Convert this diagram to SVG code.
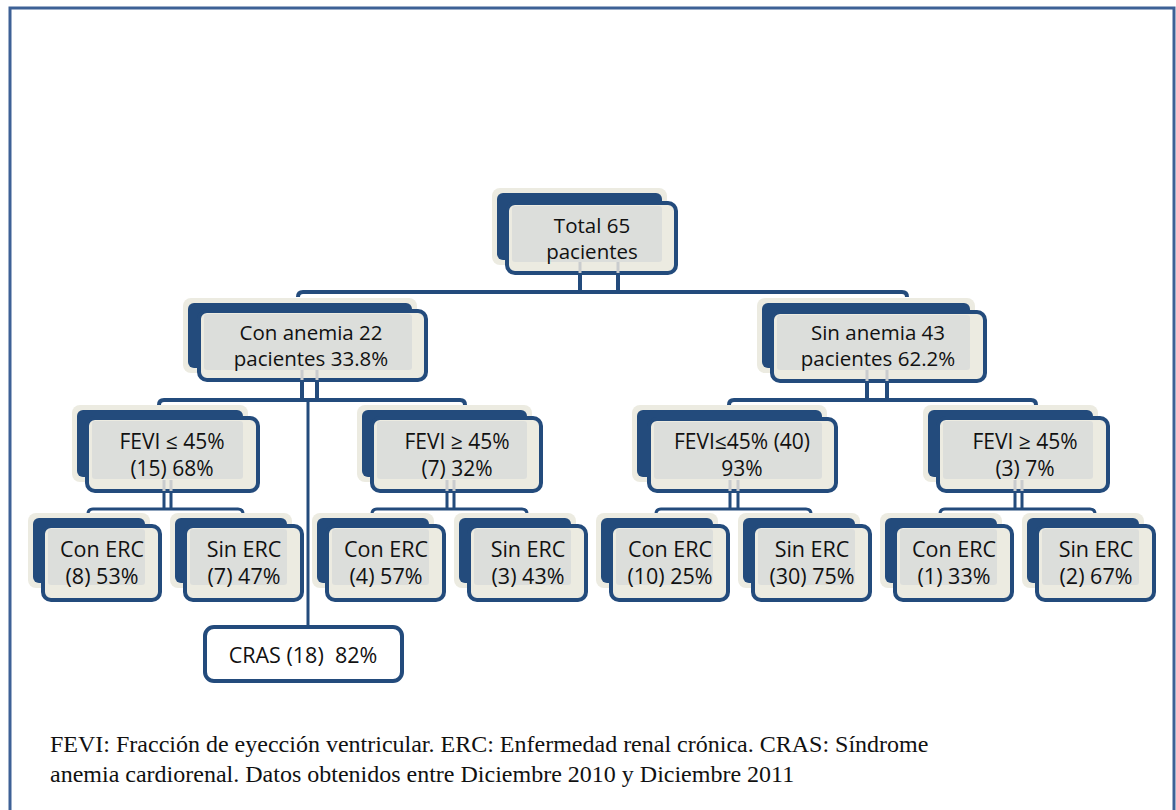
<svg xmlns="http://www.w3.org/2000/svg" width="1176" height="810" viewBox="0 0 1176 810">
<defs>
<style>
.glow{fill:#ecebe1}
.back{fill:#234b7c}
.front{fill:#ecebe1;stroke:#234b7c;stroke-width:4}
.tarea{fill:#dcdedb}
.t{font-family:"Open Sans","Liberation Sans",sans-serif;font-size:20.5px;fill:#111;text-anchor:middle}
.l2{font-size:20.5px}
.l3{font-size:21px}
.l4{font-size:21.5px}
.c{fill:none;stroke:#234b7c;stroke-width:4}
.c3{fill:none;stroke:#234b7c;stroke-width:3}
.stub{fill:none;stroke:#c9ccce;stroke-width:3}
.cap{font-family:"Liberation Serif",serif;font-size:24px;fill:#111}
</style>
</defs>
<rect width="1176" height="810" fill="#fff"/>
<rect x="10" y="8" width="1164" height="810" fill="none" stroke="#3d6196" stroke-width="3"/>

<g id="connectors">
<path class="c" d="M580,275V292M618,275V292M298,297Q298,292 303,292H902Q907,292 907,297"/>
<path class="c" d="M302,382V400M317,382V400M159,405Q159,400 164,400H460Q465,400 465,405"/>
<path class="c3" d="M308,400V625"/>
<path class="c" d="M867,383V400M887,383V400M729,405Q729,400 734,400H1031Q1036,400 1036,405"/>
<path class="c3" d="M164,493V509M171,493V509M88,514Q88,509 93,509H238Q243,509 243,514"/>
<path class="c3" d="M447,493V509M454,493V509M372,514Q372,509 377,509H522Q527,509 527,514"/>
<path class="c3" d="M730,493V509M738,493V509M656,514Q656,509 661,509H806Q811,509 811,514"/>
<path class="c3" d="M1015,493V509M1022,493V509M940,514Q940,509 945,509H1090Q1095,509 1095,514"/>
</g>

<g id="n-total">
<rect class="glow" x="492" y="188" width="175" height="77" rx="8"/>
<rect class="back" x="497" y="193" width="165" height="67" rx="6"/>
<rect class="front" x="507" y="203" width="169" height="70" rx="8"/>
<rect class="tarea" x="512" y="206" width="150" height="56" rx="3"/>
<path class="stub" d="M580,262V273M618,262V273"/>
<text class="t" x="592" y="233">Total 65</text>
<text class="t" x="592" y="259">pacientes</text>
</g>

<g id="n-con-anemia">
<rect class="glow" x="183" y="298" width="234" height="75" rx="8"/>
<rect class="back" x="188" y="303" width="224" height="65" rx="6"/>
<rect class="front" x="199" y="311" width="227" height="69" rx="8"/>
<rect class="tarea" x="204" y="314" width="208" height="56" rx="3"/>
<path class="stub" d="M302,370V380M317,370V380"/>
<text class="t l2" x="311" y="340">Con anemia 22</text>
<text class="t l2" x="311" y="366">pacientes 33.8%</text>
</g>

<g id="n-sin-anemia">
<rect class="glow" x="757" y="298" width="218" height="75" rx="8"/>
<rect class="back" x="762" y="303" width="208" height="65" rx="6"/>
<rect class="front" x="772" y="312" width="213" height="69" rx="8"/>
<rect class="tarea" x="777" y="315" width="193" height="55" rx="3"/>
<path class="stub" d="M867,370V381M887,370V381"/>
<text class="t l2" x="878" y="340">Sin anemia 43</text>
<text class="t l2" x="878" y="366">pacientes 62.2%</text>
</g>

<g id="n-fevi-15">
<rect class="glow" x="72" y="405" width="176" height="77" rx="8"/>
<rect class="back" x="77" y="410" width="166" height="67" rx="6"/>
<rect class="front" x="87" y="418" width="171" height="73" rx="8"/>
<rect class="tarea" x="92" y="421" width="151" height="58" rx="3"/>
<path class="stub" d="M164,480V491M171,480V491"/>
<text class="t l3" x="172" y="449">FEVI ≤ 45%</text>
<text class="t l3" x="172" y="476">(15) 68%</text>
</g>

<g id="n-fevi-7">
<rect class="glow" x="357" y="405" width="175" height="77" rx="8"/>
<rect class="back" x="362" y="410" width="165" height="67" rx="6"/>
<rect class="front" x="372" y="418" width="169" height="73" rx="8"/>
<rect class="tarea" x="377" y="421" width="150" height="58" rx="3"/>
<path class="stub" d="M447,480V491M454,480V491"/>
<text class="t l3" x="457" y="449">FEVI ≥ 45%</text>
<text class="t l3" x="457" y="476">(7) 32%</text>
</g>

<g id="n-fevi-40">
<rect class="glow" x="632" y="405" width="195" height="77" rx="8"/>
<rect class="back" x="637" y="410" width="185" height="67" rx="6"/>
<rect class="front" x="649" y="419" width="187" height="72" rx="8"/>
<rect class="tarea" x="654" y="422" width="168" height="57" rx="3"/>
<path class="stub" d="M730,480V491M738,480V491"/>
<text class="t l3" x="742" y="449">FEVI≤45% (40)</text>
<text class="t l3" x="742" y="476">93%</text>
</g>

<g id="n-fevi-3">
<rect class="glow" x="923" y="405" width="175" height="77" rx="8"/>
<rect class="back" x="928" y="410" width="165" height="67" rx="6"/>
<rect class="front" x="938" y="418" width="170" height="73" rx="8"/>
<rect class="tarea" x="943" y="421" width="150" height="58" rx="3"/>
<path class="stub" d="M1015,480V491M1022,480V491"/>
<text class="t l3" x="1025" y="449">FEVI ≥ 45%</text>
<text class="t l3" x="1025" y="476">(3) 7%</text>
</g>

<g id="n-erc-1">
<rect class="glow" x="28" y="513" width="122" height="75" rx="8"/>
<rect class="back" x="33" y="518" width="112" height="65" rx="6"/>
<rect class="front" x="43" y="526" width="117" height="74" rx="8"/>
<rect class="tarea" x="48" y="529" width="97" height="56" rx="3"/>
<text class="t l4" x="102" y="557">Con ERC</text>
<text class="t l4" x="102" y="584">(8) 53%</text>
</g>
<g id="n-erc-2">
<rect class="glow" x="170" y="513" width="122" height="75" rx="8"/>
<rect class="back" x="175" y="518" width="112" height="65" rx="6"/>
<rect class="front" x="185" y="526" width="117" height="74" rx="8"/>
<rect class="tarea" x="190" y="529" width="97" height="56" rx="3"/>
<text class="t l4" x="244" y="557">Sin ERC</text>
<text class="t l4" x="244" y="584">(7) 47%</text>
</g>
<g id="n-erc-3">
<rect class="glow" x="312" y="513" width="122" height="75" rx="8"/>
<rect class="back" x="317" y="518" width="112" height="65" rx="6"/>
<rect class="front" x="327" y="526" width="117" height="74" rx="8"/>
<rect class="tarea" x="332" y="529" width="97" height="56" rx="3"/>
<text class="t l4" x="386" y="557">Con ERC</text>
<text class="t l4" x="386" y="584">(4) 57%</text>
</g>
<g id="n-erc-4">
<rect class="glow" x="454" y="513" width="122" height="75" rx="8"/>
<rect class="back" x="459" y="518" width="112" height="65" rx="6"/>
<rect class="front" x="469" y="526" width="117" height="74" rx="8"/>
<rect class="tarea" x="474" y="529" width="97" height="56" rx="3"/>
<text class="t l4" x="528" y="557">Sin ERC</text>
<text class="t l4" x="528" y="584">(3) 43%</text>
</g>
<g id="n-erc-5">
<rect class="glow" x="596" y="513" width="122" height="75" rx="8"/>
<rect class="back" x="601" y="518" width="112" height="65" rx="6"/>
<rect class="front" x="611" y="526" width="117" height="74" rx="8"/>
<rect class="tarea" x="616" y="529" width="97" height="56" rx="3"/>
<text class="t l4" x="670" y="557">Con ERC</text>
<text class="t l4" x="670" y="584">(10) 25%</text>
</g>
<g id="n-erc-6">
<rect class="glow" x="738" y="513" width="122" height="75" rx="8"/>
<rect class="back" x="743" y="518" width="112" height="65" rx="6"/>
<rect class="front" x="753" y="526" width="117" height="74" rx="8"/>
<rect class="tarea" x="758" y="529" width="97" height="56" rx="3"/>
<text class="t l4" x="812" y="557">Sin ERC</text>
<text class="t l4" x="812" y="584">(30) 75%</text>
</g>
<g id="n-erc-7">
<rect class="glow" x="880" y="513" width="122" height="75" rx="8"/>
<rect class="back" x="885" y="518" width="112" height="65" rx="6"/>
<rect class="front" x="895" y="526" width="117" height="74" rx="8"/>
<rect class="tarea" x="900" y="529" width="97" height="56" rx="3"/>
<text class="t l4" x="954" y="557">Con ERC</text>
<text class="t l4" x="954" y="584">(1) 33%</text>
</g>
<g id="n-erc-8">
<rect class="glow" x="1022" y="513" width="122" height="75" rx="8"/>
<rect class="back" x="1027" y="518" width="112" height="65" rx="6"/>
<rect class="front" x="1037" y="526" width="117" height="74" rx="8"/>
<rect class="tarea" x="1042" y="529" width="97" height="56" rx="3"/>
<text class="t l4" x="1096" y="557">Sin ERC</text>
<text class="t l4" x="1096" y="584">(2) 67%</text>
</g>

<g id="n-cras">
<rect x="205" y="627" width="197" height="54" rx="9" fill="#fff" stroke="#234b7c" stroke-width="4"/>
<text class="t l4" x="303" y="663" xml:space="preserve">CRAS (18)  82%</text>
</g>

<g id="caption">
<text class="cap" x="50" y="752">FEVI: Fracción de eyección ventricular. ERC: Enfermedad renal crónica. CRAS: Síndrome</text>
<text class="cap" x="50" y="782">anemia cardiorenal. Datos obtenidos entre Diciembre 2010 y Diciembre 2011</text>
</g>
</svg>
